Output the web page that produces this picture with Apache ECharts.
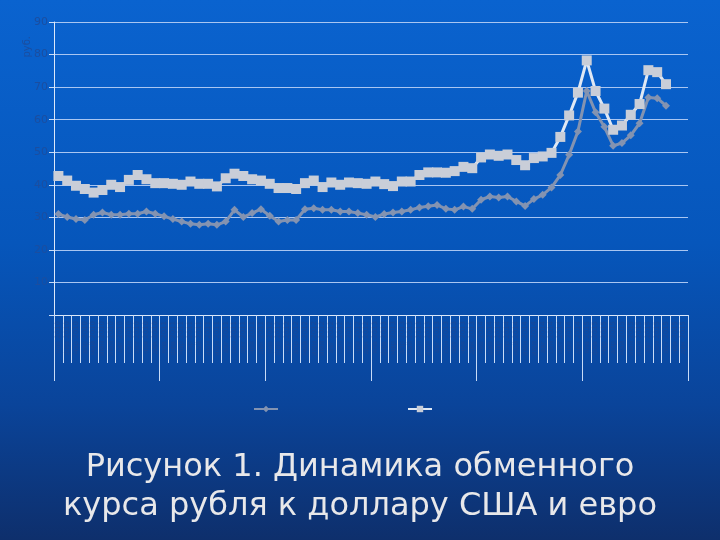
<!DOCTYPE html>
<html><head><meta charset="utf-8">
<script src="https://cdn.jsdelivr.net/npm/echarts@6/dist/echarts.min.js"></script>
<style>html,body{margin:0;padding:0;}#c{width:720px;height:540px;}</style>
</head><body><div id="c"></div>
<script>
var monthNames = ['янв','фев','мар','апр','май','июн','июл','авг','сен','окт','ноя','дек'];
var years = ['2010','2011','2012','2013','2014','2015'];
var usd = [31.0,30.1,29.5,29.2,30.8,31.5,30.8,30.8,31.1,31.1,31.8,31.1,30.3,29.5,28.7,28.0,27.7,28.0,27.7,28.7,32.3,30.1,31.3,32.5,30.5,28.7,29.2,29.2,32.5,32.8,32.3,32.3,31.8,31.8,31.3,30.8,30.1,31.0,31.5,31.8,32.3,33.0,33.4,33.8,32.6,32.3,33.3,32.6,35.4,36.4,36.1,36.4,34.9,33.5,35.6,36.9,39.2,43.0,49.2,56.4,68.8,62.3,57.8,52.0,52.8,55.2,58.9,66.8,66.6,64.3];
var eur = [42.7,41.3,39.7,38.7,37.6,38.4,40.0,39.3,41.5,43.0,41.7,40.5,40.5,40.3,40.0,41.0,40.3,40.3,39.5,42.0,43.4,42.7,41.7,41.3,40.3,39.0,39.0,38.7,40.5,41.3,39.3,40.7,40.0,40.7,40.5,40.3,41.0,40.2,39.6,41.0,41.0,43.0,43.8,43.8,43.7,44.2,45.5,45.1,48.4,49.3,48.9,49.3,47.6,46.0,48.2,48.7,49.8,54.7,61.3,68.3,78.2,68.8,63.4,56.9,58.2,61.5,64.8,75.2,74.6,70.9];
var yTicks = ['0','10','20','30','40','50','60','70','80','90'];
var seriesNames = ['доллар США','евро'];
var titleLines = ['Рисунок 1. Динамика обменного','курса рубля к доллару США и евро'];

var categories = [];
years.forEach(function(y){ monthNames.forEach(function(m){ categories.push(m + ' ' + y); }); });

var chart = echarts.init(document.getElementById('c'));
var lightLine = '#a9c6f2';
chart.setOption({
  backgroundColor: new echarts.graphic.LinearGradient(0,0,0,1,[
    {offset:0,color:'#0a63cf'},{offset:0.45,color:'#0656bb'},{offset:0.75,color:'#0a449a'},{offset:1,color:'#0e2f6c'}
  ]),
  animation:false,
  grid:{left:54,right:32,top:22,bottom:225,containLabel:false},
  legend:[
    {data:[seriesNames[0]],left:248,top:400,itemWidth:24,itemHeight:8,formatter:function(){return '';},textStyle:{color:'#0a449a'}},
    {data:[seriesNames[1]],left:402,top:400,itemWidth:24,itemHeight:8,formatter:function(){return '';},textStyle:{color:'#0a449a'}}
  ],
  xAxis:[
    {type:'category',data:categories,boundaryGap:true,position:'bottom',
     axisLine:{show:true,lineStyle:{color:'#dce8fa',width:1}},
     axisTick:{show:true,interval:0,length:48,lineStyle:{color:'#c9dcf7',width:1}},
     axisLabel:{show:true,interval:0,rotate:90,color:'#1a4896',fontSize:7,margin:6,fontFamily:'DejaVu Sans'},
     splitLine:{show:false}},
    {type:'category',data:years,boundaryGap:true,position:'bottom',
     axisLine:{show:false},
     axisTick:{show:true,interval:0,length:66,lineStyle:{color:'#c9dcf7',width:1}},
     axisLabel:{show:false},splitLine:{show:false}}
  ],
  yAxis:{type:'value',min:0,max:90,interval:10,
    axisLine:{show:true,lineStyle:{color:'#dce8fa',width:1}},
    axisTick:{show:true,length:5,lineStyle:{color:'#c9dcf7'}},
    axisLabel:{color:'#1b4ea0',fontSize:11,margin:6,fontFamily:'DejaVu Sans',
      formatter:function(v){var s=String(v);return (v===0)?'':(yTicks.indexOf(s)>=0?s:'');}},
    splitLine:{show:true,lineStyle:{color:lightLine,width:1}}
  },
  graphic:[
    {type:'text',left:22,top:36,rotation:Math.PI/2,style:{text:'руб.',fill:'#1b4ea0',font:'10px DejaVu Sans'}},
    {type:'text',left:'center',top:448,style:{text:titleLines.join('\n'),fill:'#e8e8ea',font:'32px "DejaVu Sans"',textAlign:'center',lineHeight:39}}
  ],
  series:[
    {name:seriesNames[0],type:'line',data:usd,xAxisIndex:0,symbol:'diamond',symbolSize:8,
     lineStyle:{color:'#8393b1',width:3},itemStyle:{color:'#8393b1'},z:3},
    {name:seriesNames[1],type:'line',data:eur,xAxisIndex:0,symbol:'rect',symbolSize:10,
     lineStyle:{color:'#dfe8f4',width:3},itemStyle:{color:'#c9ced8'},z:4}
  ]
});
</script></body></html>
